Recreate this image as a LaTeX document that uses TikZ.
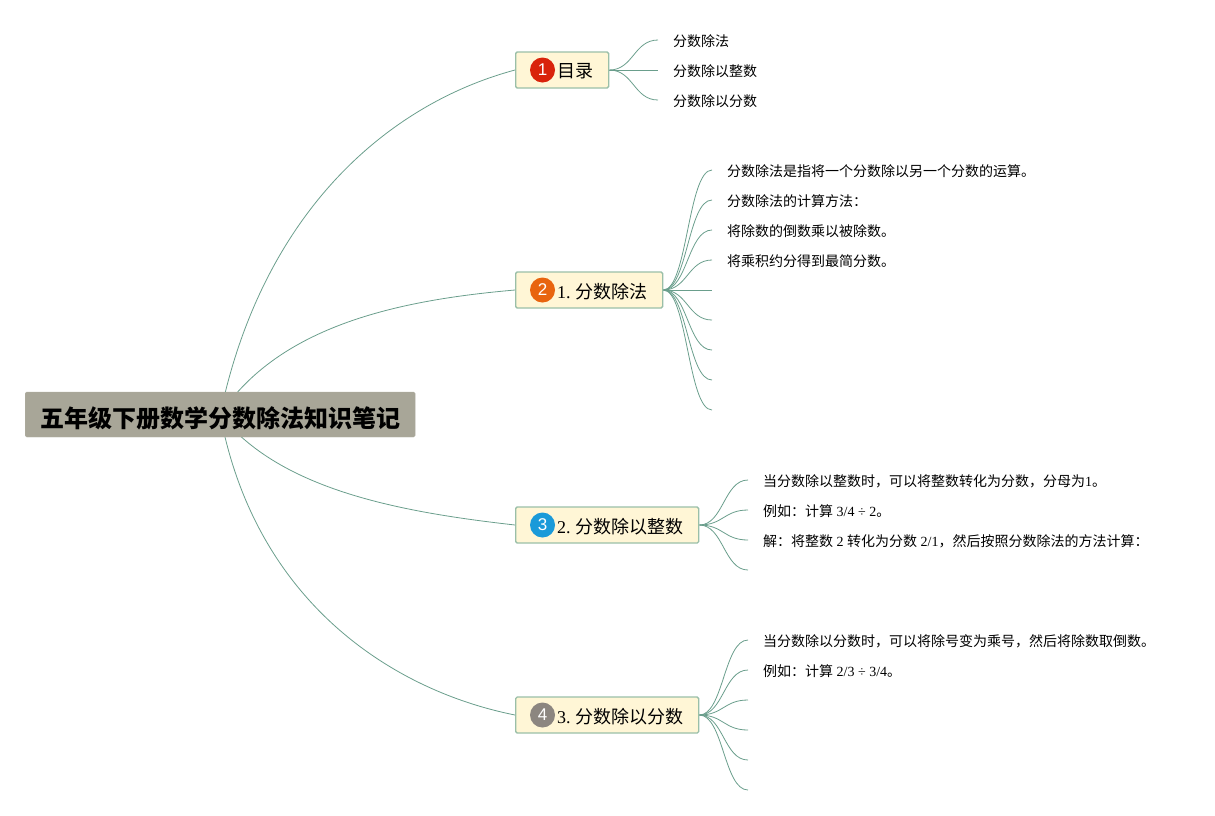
\documentclass[tikz,border=0pt]{standalone}
\usepackage{fontspec}
\setmainfont{Liberation Serif}
\newfontfamily\cjk{Noto Sans CJK SC}
\newfontfamily\numfont{Liberation Sans}
\newcommand{\zh}[1]{{\cjk #1}}
\usetikzlibrary{backgrounds}
\definecolor{linkgreen}{HTML}{6A9E8C}
\definecolor{boxcream}{HTML}{FFF6D6}
\definecolor{boxedge}{HTML}{9ABFA8}
\definecolor{rootgray}{HTML}{A8A698}
\definecolor{badgered}{HTML}{D9230B}
\definecolor{badgeorange}{HTML}{E8640F}
\definecolor{badgeblue}{HTML}{1A9AD9}
\definecolor{badgegray}{HTML}{8C8680}
\tikzset{
  rootbox/.style={rectangle,rounded corners=1.5pt,fill=rootgray,draw=rootgray!90!white,anchor=west,inner sep=0pt,minimum width=390pt,minimum height=45pt},
  roottext/.style={inner sep=0pt,font=\fontsize{24}{28}\selectfont\bfseries},
  topicbox/.style={rectangle,rounded corners=1.5pt,fill=boxcream,draw=boxedge,line width=1.3pt,anchor=west,inner sep=0pt,minimum height=36pt},
  badge/.style={circle,inner sep=0pt,minimum size=25pt,text=white,font=\fontsize{17}{20}\numfont},
  topictext/.style={anchor=west,inner sep=0pt,font=\fontsize{18}{21}\selectfont},
  leaftext/.style={anchor=west,inner sep=0pt,font=\fontsize{14}{17}\selectfont},
  link/.style={draw=linkgreen,line width=0.8pt},
  leaflink/.style={draw=linkgreen,line width=0.8pt,to path={.. controls +(24,0) and +(-24,0) .. (\tikztotarget)}}
}
\begin{document}
\begin{tikzpicture}[x=1pt,y=-1pt]
\useasboundingbox (0,0) rectangle (1215,815);
\node[rootbox] (root) at (25,414.5) {};
\node[roottext] (title) at (220.5,418) {\zh{五年级下册数学分数除法知识笔记}};
\node[topicbox,minimum width=93pt] (mulu) at (515,70) {};
\node[badge,fill=badgered] (badgeA) at (542.5,70) {1};
\node[topictext] at (557,71.5) {\zh{目录}};
\node[topicbox,minimum width=147pt] (chufa) at (515,290) {};
\node[badge,fill=badgeorange] (badgeB) at (542.5,290) {2};
\node[topictext] at (557,291.5) {1.\hspace{5pt}\zh{分数除法}};
\node[topicbox,minimum width=183pt] (zhengshu) at (515,525) {};
\node[badge,fill=badgeblue] (badgeC) at (542.5,525) {3};
\node[topictext] at (557,526.5) {2.\hspace{5pt}\zh{分数除以整数}};
\node[topicbox,minimum width=183pt] (fenshu) at (515,715) {};
\node[badge,fill=badgegray] (badgeD) at (542.5,715) {4};
\node[topictext] at (557,716.5) {3.\hspace{5pt}\zh{分数除以分数}};
% leaf ends
\coordinate (a1) at (658,40);
\coordinate (a2) at (658,70);
\coordinate (a3) at (658,100);
\coordinate (b1) at (712,170);
\coordinate (b2) at (712,200);
\coordinate (b3) at (712,230);
\coordinate (b4) at (712,260);
\coordinate (b5) at (712,290);
\coordinate (b6) at (712,320);
\coordinate (b7) at (712,350);
\coordinate (b8) at (712,380);
\coordinate (b9) at (712,410);
\coordinate (c1) at (748,480);
\coordinate (c2) at (748,510);
\coordinate (c3) at (748,540);
\coordinate (c4) at (748,570);
\coordinate (d1) at (748,640);
\coordinate (d2) at (748,670);
\coordinate (d3) at (748,700);
\coordinate (d4) at (748,730);
\coordinate (d5) at (748,760);
\coordinate (d6) at (748,790);
\node[leaftext] (ta1) at (673,41.5) {\zh{分数除法}};
\node[leaftext] (ta2) at (673,71.5) {\zh{分数除以整数}};
\node[leaftext] (ta3) at (673,101.5) {\zh{分数除以分数}};
\node[leaftext] (tb1) at (727,171.5) {\zh{分数除法是指将一个分数除以另一个分数的运算。}};
\node[leaftext] (tb2) at (727,201.5) {\zh{分数除法的计算方法：}};
\node[leaftext] (tb3) at (727,231.5) {\zh{将除数的倒数乘以被除数。}};
\node[leaftext] (tb4) at (727,261.5) {\zh{将乘积约分得到最简分数。}};
\node[leaftext] (tc1) at (763,481.5) {\zh{当分数除以整数时，可以将整数转化为分数，分母为}1\zh{。}};
\node[leaftext] (tc2) at (763,511.5) {\zh{例如：计算} 3/4 ÷ 2\zh{。}};
\node[leaftext] (tc3) at (763,541.5) {\zh{解：将整数} 2 \zh{转化为分数} 2/1\zh{，然后按照分数除法的方法计算：}};
\node[leaftext] (td1) at (763,641.5) {\zh{当分数除以分数时，可以将除号变为乘号，然后将除数取倒数。}};
\node[leaftext] (td2) at (763,671.5) {\zh{例如：计算} 2/3 ÷ 3/4\zh{。}};
\begin{pgfonlayer}{background}
\draw[link] (root.center) .. controls (262,215) and (385,105) .. (mulu.west);
\draw[link] (root.center) .. controls (280,325) and (400,300) .. (chufa.west);
\draw[link] (root.center) .. controls (280,490) and (400,512) .. (zhengshu.west);
\draw[link] (root.center) .. controls (255,600) and (390,690) .. (fenshu.west);
\draw[leaflink] (mulu.east) to (a1);
\draw[leaflink] (mulu.east) to (a2);
\draw[leaflink] (mulu.east) to (a3);
\draw[leaflink] (chufa.east) to (b1);
\draw[leaflink] (chufa.east) to (b2);
\draw[leaflink] (chufa.east) to (b3);
\draw[leaflink] (chufa.east) to (b4);
\draw[leaflink] (chufa.east) to (b5);
\draw[leaflink] (chufa.east) to (b6);
\draw[leaflink] (chufa.east) to (b7);
\draw[leaflink] (chufa.east) to (b8);
\draw[leaflink] (chufa.east) to (b9);
\draw[leaflink] (zhengshu.east) to (c1);
\draw[leaflink] (zhengshu.east) to (c2);
\draw[leaflink] (zhengshu.east) to (c3);
\draw[leaflink] (zhengshu.east) to (c4);
\draw[leaflink] (fenshu.east) to (d1);
\draw[leaflink] (fenshu.east) to (d2);
\draw[leaflink] (fenshu.east) to (d3);
\draw[leaflink] (fenshu.east) to (d4);
\draw[leaflink] (fenshu.east) to (d5);
\draw[leaflink] (fenshu.east) to (d6);
\end{pgfonlayer}
\end{tikzpicture}
\end{document}
